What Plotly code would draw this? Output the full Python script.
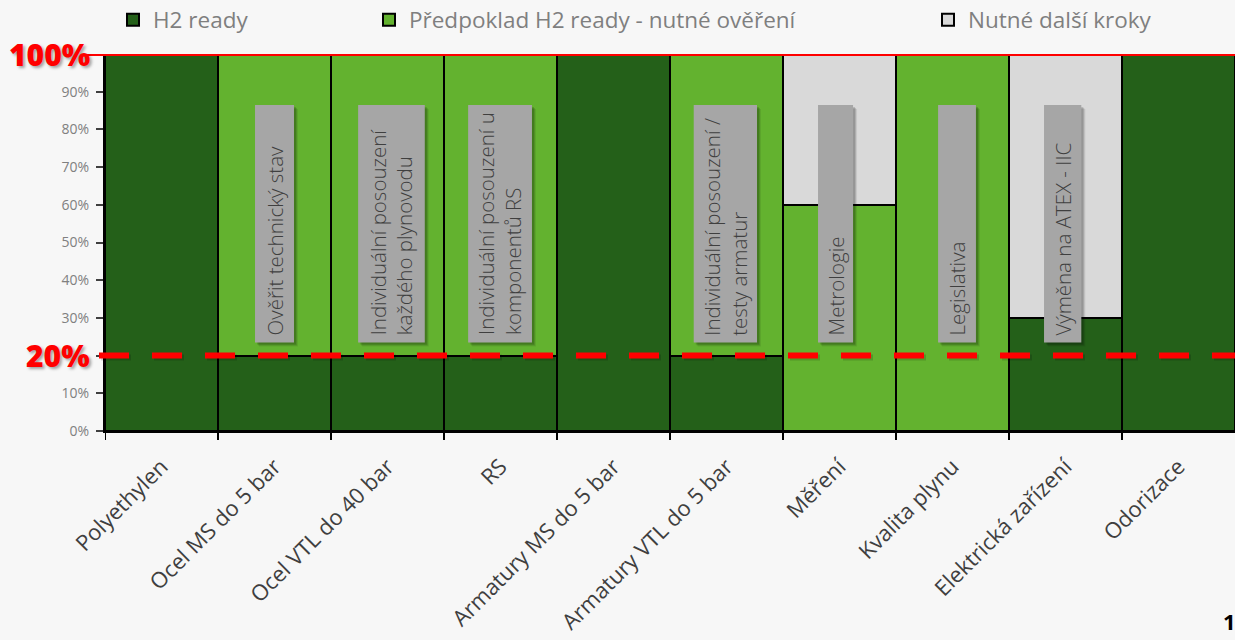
import plotly.graph_objects as go

# Categories and stacked shares (fraction of 1)
categories = ["Polyethylen", "Ocel MS do 5 bar", "Ocel VTL do 40 bar", "RS",
              "Armatury MS do 5 bar", "Armatury VTL do 5 bar", "Měření",
              "Kvalita plynu", "Elektrická zařízení", "Odorizace"]
h2_ready = [1.0, 0.2, 0.2, 0.2, 1.0, 0.2, 0.0, 0.0, 0.3, 1.0]
predpoklad = [0.0, 0.8, 0.8, 0.8, 0.0, 0.8, 0.6, 1.0, 0.0, 0.0]
dalsi_kroky = [0.0, 0.0, 0.0, 0.0, 0.0, 0.0, 0.4, 0.0, 0.7, 0.0]

series_names = ["H2 ready", "Předpoklad H2 ready - nutné ověření", "Nutné další kroky"]
series_colors = ["#246019", "#63B22F", "#D9D9D9"]

y_tickvals = [0, 0.1, 0.2, 0.3, 0.4, 0.5, 0.6, 0.7, 0.8, 0.9]
y_ticktext = ["0%", "10%", "", "30%", "40%", "50%", "60%", "70%", "80%", "90%"]

# Callout notes: category position, width (in category units), text
note_x = [1.0, 2.035, 2.996, 4.99, 5.965, 7.04, 7.975]
note_w = [0.345, 0.59, 0.565, 0.56, 0.31, 0.335, 0.33]
note_text = ["Ověřit technický stav",
             "Individuální posouzení<br>každého plynovodu",
             "Individuální posouzení u<br>komponentů RS",
             "Individuální posouzení /<br>testy armatur",
             "Metrologie",
             "Legislativa",
             "Výměna na ATEX - IIC"]
note_y0, note_y1 = 0.235, 0.865

# Page layout (pixels)
W, H = 1235, 640
L, R, T, B = 105, 0, 54, 209
PW = W - L - R
PH = H - T - B

def px_x(px):
    return (px - L) / PW

def px_y(py):
    return (H - B - py) / PH

FONT = "Open Sans"
BG = "#F7F7F7"

fig = go.Figure()
series = [h2_ready, predpoklad, dalsi_kroky]
legend_ids = ["legend", "legend2", "legend3"]
for vals, name, col, lg in zip(series, series_names, series_colors, legend_ids):
    fig.add_trace(go.Bar(
        x=list(range(len(categories))), y=vals, name=name,
        marker=dict(color=col, line=dict(color="#000000", width=2)),
        legend=lg, hoverinfo="skip",
    ))

shapes = []
annotations = []

# Gray callout boxes with a soft drop shadow
for cx, w, txt in zip(note_x, note_w, note_text):
    for off, alpha in [(4, 0.08), (3, 0.12), (2, 0.15)]:
        shapes.append(dict(type="rect", xref="x", yref="y",
                           x0=cx - w / 2 + off / 113, x1=cx + w / 2 + off / 113,
                           y0=note_y0 - off / PH, y1=note_y1 - off / PH,
                           fillcolor=f"rgba(0,0,0,{alpha})", line=dict(width=0),
                           layer="above"))
    shapes.append(dict(type="rect", xref="x", yref="y",
                       x0=cx - w / 2, x1=cx + w / 2, y0=note_y0, y1=note_y1,
                       fillcolor="#A6A6A6", line=dict(width=0), layer="above"))
    annotations.append(dict(x=cx, y=note_y0 + 5 / PH, xref="x", yref="y",
                            text=txt, textangle=-90, showarrow=False,
                            xanchor="center", yanchor="bottom", align="left",
                            font=dict(family=FONT, size=20.5, color="#3F3F3F", weight=300)))

# Red reference lines at 100 % and 20 %
shapes.append(dict(type="line", xref="paper", yref="y", x0=px_x(84), x1=1.0,
                   y0=1.0, y1=1.0, line=dict(color="#FF0000", width=4), layer="above"))
shapes.append(dict(type="line", xref="paper", yref="y", x0=px_x(101), x1=1.0,
                   y0=0.2 - 2 / PH, y1=0.2 - 2 / PH,
                   line=dict(color="rgba(0,0,0,0.15)", width=6, dash="30px,23px"),
                   layer="above"))
shapes.append(dict(type="line", xref="paper", yref="y", x0=px_x(99), x1=1.0,
                   y0=0.2, y1=0.2,
                   line=dict(color="#FF0000", width=6, dash="30px,23px"), layer="above"))

red_font = dict(family=FONT, size=30, color="#FF0000", weight=800,
                shadow="2px 2px 3px rgba(0,0,0,0.35)")
annotations.append(dict(x=px_x(92), y=1.0, xref="paper", yref="y", text="100%",
                        showarrow=False, xanchor="right", yanchor="middle", font=red_font))
annotations.append(dict(x=px_x(92), y=0.2, xref="paper", yref="y", text="20%",
                        showarrow=False, xanchor="right", yanchor="middle", font=red_font))

# Page number in the corner
annotations.append(dict(x=px_x(1221), y=px_y(621), xref="paper", yref="paper", text="1",
                        showarrow=False, xanchor="left", yanchor="middle",
                        font=dict(family=FONT, size=22, color="#000000", weight=700)))

legend_common = dict(orientation="h", xref="container", yref="container",
                     yanchor="middle", xanchor="left", bgcolor="rgba(0,0,0,0)",
                     font=dict(family=FONT, size=22.5, color="#7F7F7F"),
                     itemclick=False, itemdoubleclick=False)
legend_x = [113, 369, 928]

fig.update_layout(
    width=W, height=H,
    margin=dict(l=L, r=R, t=T, b=B, pad=0),
    paper_bgcolor=BG, plot_bgcolor=BG,
    barmode="stack", bargap=0,
    showlegend=True,
    legend=dict(x=legend_x[0] / W, y=1 - 20 / H, **legend_common),
    legend2=dict(x=legend_x[1] / W, y=1 - 20 / H, **legend_common),
    legend3=dict(x=legend_x[2] / W, y=1 - 20 / H, **legend_common),
    shapes=shapes, annotations=annotations,
    xaxis=dict(
        range=[-0.5, len(categories) - 0.5],
        tickmode="array", tickvals=list(range(len(categories))), ticktext=categories,
        tickangle=-45, tickfont=dict(family=FONT, size=22, color="#3F3F3F"),
        ticklabelstandoff=12,
        ticks="", showline=True, linecolor="#000000", linewidth=2,
        showgrid=False, zeroline=False, fixedrange=True,
    ),
    yaxis=dict(
        range=[0, 1], tickmode="array", tickvals=y_tickvals, ticktext=y_ticktext,
        tickfont=dict(family=FONT, size=14, color="#808080"),
        ticklabelstandoff=4,
        ticks="outside", ticklen=7, tickwidth=1.5, tickcolor="#404040",
        showline=True, linecolor="#000000", linewidth=2,
        showgrid=False, zeroline=False, fixedrange=True,
    ),
)

# Category boundary ticks on the x axis
for i in range(len(categories)):
    shapes.append(dict(type="line", xref="x", yref="paper", x0=i - 0.5, x1=i - 0.5,
                       y0=0, y1=-9 / PH, line=dict(color="#000000", width=2)))
fig.update_layout(shapes=shapes)

fig.write_html("out.html")
